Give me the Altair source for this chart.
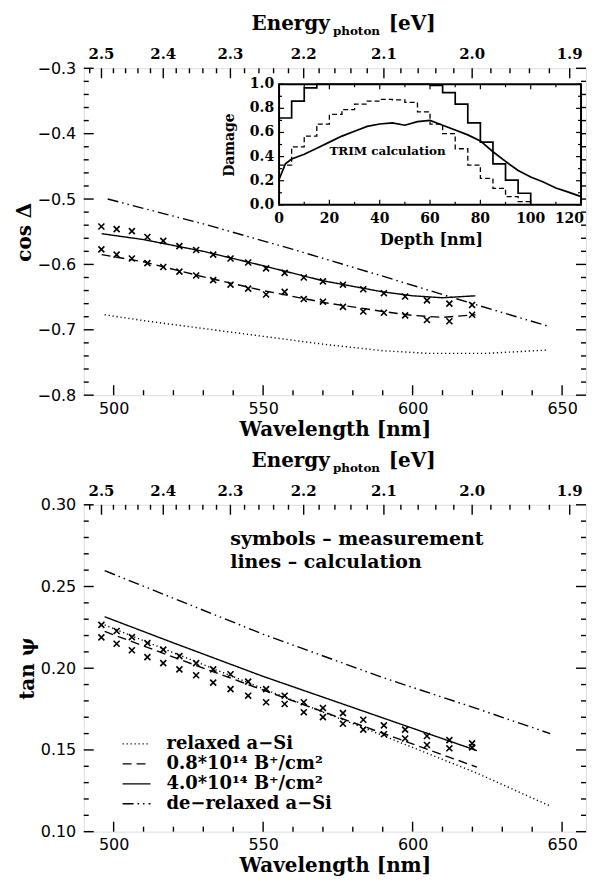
import altair as alt
import pandas as pd

# ----------------------------- data -----------------------------------
# wavelengths of the measured points (nm)  (photon energies 2.5 ... 2.0 eV)
WL_MEAS = [495.9, 501.0, 506.1, 511.3, 516.6, 522.0, 527.6, 533.3, 539.1, 545.0,
           551.0, 557.2, 563.6, 570.0, 576.7, 583.5, 590.4, 597.5, 604.8, 612.3, 619.9]

COS_MEAS_HIGH = [-0.542, -0.546, -0.549, -0.558, -0.564, -0.572, -0.578, -0.585, -0.591, -0.597,
                 -0.606, -0.613, -0.620, -0.626, -0.631, -0.638, -0.644, -0.649, -0.655, -0.660, -0.662]
COS_MEAS_LOW = [-0.577, -0.585, -0.591, -0.598, -0.604, -0.611, -0.617, -0.624, -0.631, -0.637,
                -0.646, -0.642, -0.653, -0.657, -0.665, -0.672, -0.674, -0.678, -0.685, -0.687, -0.677]

TAN_MEAS_HIGH = [0.2265, 0.2228, 0.2190, 0.2154, 0.2114, 0.2074, 0.2031, 0.1993, 0.1963, 0.1918,
                 0.1872, 0.1832, 0.1792, 0.1757, 0.1725, 0.1685, 0.1650, 0.1624, 0.1585, 0.1560, 0.1540]
TAN_MEAS_LOW = [0.2189, 0.2150, 0.2110, 0.2068, 0.2031, 0.1993, 0.1957, 0.1912, 0.1872, 0.1832,
                0.1792, 0.1781, 0.1731, 0.1701, 0.1660, 0.1624, 0.1596, 0.1570, 0.1530, 0.1510, 0.1516]

SERIES = ["relaxed a\u2212Si", "0.8*10\u00b9\u2074 B\u207a/cm\u00b2",
          "4.0*10\u00b9\u2074 B\u207a/cm\u00b2", "de\u2212relaxed a\u2212Si"]
DASHES = [[1.2, 2.8], [9, 5], [1, 0], [11, 4, 1.5, 4, 1.5, 4]]

# calculated cos(Delta)
COS_WL_DOTTED = [497, 510, 525, 550, 570, 590, 605, 625, 645]
COS_DOTTED = [-0.677, -0.686, -0.695, -0.710, -0.722, -0.732, -0.736, -0.736, -0.731]
COS_WL_DASHED = [496, 510, 530, 550, 570, 590, 600, 610, 621]
COS_DASHED = [-0.585, -0.596, -0.619, -0.640, -0.658, -0.672, -0.678, -0.681, -0.677]
COS_WL_SOLID = [496, 510, 530, 550, 570, 590, 600, 610, 621]
COS_SOLID = [-0.553, -0.562, -0.580, -0.602, -0.625, -0.642, -0.648, -0.651, -0.648]
COS_WL_DASHDOT = [498, 530, 560, 590, 620, 645]
COS_DASHDOT = [-0.500, -0.538, -0.577, -0.618, -0.660, -0.694]

# calculated tan(psi)
TAN_WL_DOTTED = [497, 520, 550, 585, 621.5, 646]
TAN_DOTTED = [0.2265, 0.2095, 0.1875, 0.1625, 0.1358, 0.1157]
TAN_WL_DASHED = [497, 520, 545, 580, 621.5]
TAN_DASHED = [0.2225, 0.2068, 0.1900, 0.1668, 0.1395]
TAN_WL_SOLID = [497, 520, 550, 585, 621.5]
TAN_SOLID = [0.2315, 0.2155, 0.1950, 0.1728, 0.1496]
TAN_WL_DASHDOT = [497, 550, 590, 620, 646]
TAN_DASHDOT = [0.2597, 0.2208, 0.1943, 0.1762, 0.1600]

# inset: damage profiles
DEPTH_BINS = [0, 5, 10, 15, 20, 25, 30, 35, 40, 45, 50, 55, 60, 65, 70, 75, 80, 85, 90, 95, 100]
DAMAGE_HIGH = [0.72, 0.86, 0.97, 1.0, 1.0, 1.0, 1.0, 1.0, 1.0, 1.0, 1.0, 1.0, 0.99, 0.93,
               0.835, 0.68, 0.52, 0.34, 0.205, 0.096, 0.0]
DAMAGE_LOW = [0.33, 0.48, 0.57, 0.67, 0.75, 0.79, 0.835, 0.86, 0.875, 0.87, 0.85, 0.77, 0.67,
              0.59, 0.465, 0.33, 0.22, 0.137, 0.068, 0.027, 0.0]
DEPTH_TRIM = [0, 2.5, 5, 10, 15, 20, 25, 30, 35, 40, 45, 50, 55, 60, 65, 70, 75, 80, 85, 90,
              95, 100, 105, 110, 115, 120]
DAMAGE_TRIM = [0.21, 0.34, 0.38, 0.42, 0.47, 0.52, 0.57, 0.61, 0.65, 0.67, 0.68, 0.66, 0.69,
               0.70, 0.66, 0.62, 0.58, 0.53, 0.44, 0.36, 0.285, 0.23, 0.19, 0.14, 0.105, 0.068]

# axis ticks / labels
WL_MAJOR = [500, 550, 600, 650]
WL_MINOR = [510, 520, 530, 540, 560, 570, 580, 590, 610, 620, 630, 640]
ENERGY_MAJOR = [2.5, 2.4, 2.3, 2.2, 2.1, 2.0, 1.9]
ENERGY_LABELS = ["2.5", "2.4", "2.3", "2.2", "2.1", "2.0", "1.9"]
ENERGY_MINOR = [2.52, 2.48, 2.46, 2.44, 2.42, 2.38, 2.36, 2.34, 2.32, 2.28, 2.26, 2.24, 2.22,
                2.18, 2.16, 2.14, 2.12, 2.08, 2.06, 2.04, 2.02, 1.98, 1.96, 1.94, 1.92]
COS_MAJOR = [-0.8, -0.7, -0.6, -0.5, -0.4, -0.3]
COS_MINOR = [-0.78, -0.76, -0.74, -0.72, -0.68, -0.66, -0.64, -0.62, -0.58, -0.56, -0.54, -0.52,
             -0.48, -0.46, -0.44, -0.42, -0.38, -0.36, -0.34, -0.32]
TAN_MAJOR = [0.10, 0.15, 0.20, 0.25, 0.30]
TAN_MINOR = [0.11, 0.12, 0.13, 0.14, 0.16, 0.17, 0.18, 0.19, 0.21, 0.22, 0.23, 0.24,
             0.26, 0.27, 0.28, 0.29]
DEPTH_MAJOR = [0, 20, 40, 60, 80, 100]
DEPTH_LABELS = ["0", "20", "40", "60", "80", "100"]
DEPTH_LAST = [120]
DEPTH_LAST_LABEL = ["120"]
DEPTH_MINOR = [10, 30, 50, 70, 90, 110]
DAMAGE_MAJOR = [0.0, 0.2, 0.4, 0.6, 0.8, 1.0]
DAMAGE_LABELS = ["0.0", "0.2", "0.4", "0.6", "0.8", "1.0"]
DAMAGE_MINOR = [0.1, 0.3, 0.5, 0.7, 0.9]

ANNOT_WL = [539, 539]
ANNOT_TAN = [0.279, 0.265]
ANNOT_TEXT = ["symbols \u2013 measurement", "lines \u2013 calculation"]

# ----------------------------- layout ---------------------------------
W, H = 504, 328
SERIF = "DejaVu Serif"
SANS = "DejaVu Sans"
XS = alt.Scale(domain=[490, 658], nice=False, zero=False)
XI = alt.Scale(domain=[0, 120], range=[196, 499], nice=False, zero=False)
YI = alt.Scale(domain=[0, 1], range=[137, 16], nice=False, zero=False)
XSHAPE = "M-1,-1L1,1M-1,1L1,-1"
ONE = pd.DataFrame({"k": [0]})
TICK_MAJ, TICK_MIN = 10, 5


def long_df(parts):
    rows = []
    for s, wl, v in parts:
        for a, b in zip(wl, v):
            rows.append({"series": s, "wl": a, "val": b})
    return pd.DataFrame(rows)


def label_text(x, y, txt, size, align="left", baseline="alphabetic", weight="bold", font=SERIF):
    return alt.Chart(ONE).mark_text(font=font, fontSize=size, fontWeight=weight, align=align,
                                    baseline=baseline, color="black").encode(
        x=alt.value(x), y=alt.value(y), text=alt.value(txt))


def make_panel(ydom, ymajor, yminor, yfmt, ytitle, lines_df, meas_df, legend, extra):
    ys = alt.Scale(domain=ydom, nice=False, zero=False)
    xaxis = alt.Axis(values=WL_MAJOR, format="d", title="Wavelength [nm]", ticks=False,
                     domain=False, grid=False, labelFont=SANS, labelFontSize=16,
                     labelColor="black", labelPadding=5, labelOverlap=False, labelFlush=False,
                     titleFont=SERIF, titleFontSize=20, titleFontWeight="bold",
                     titleColor="black", titlePadding=3)
    yaxis = alt.Axis(values=ymajor, format=yfmt, title=ytitle, ticks=False, domain=False,
                     grid=False, labelFont=SANS, labelFontSize=16, labelColor="black",
                     labelPadding=8, labelOverlap=False, labelFlush=False, titleFont=SERIF,
                     titleFontSize=20, titleFontWeight="bold", titleColor="black",
                     titlePadding=3)

    def X(f):
        return alt.X(f, type="quantitative", scale=XS, axis=xaxis)

    def Y(f):
        return alt.Y(f, type="quantitative", scale=ys, axis=yaxis)

    rule = dict(color="black", strokeWidth=1.4)
    L = []
    L.append(alt.Chart(lines_df).mark_line(color="black", strokeWidth=1.4).encode(
        x=X("wl"), y=Y("val"),
        strokeDash=alt.StrokeDash("series:N", scale=alt.Scale(domain=SERIES, range=DASHES),
                                  legend=legend)))
    L.append(alt.Chart(meas_df).mark_point(shape=XSHAPE, size=36, filled=False, color="black",
                                           strokeWidth=1.6, opacity=1).encode(
        x=X("wl"), y=Y("val")))
    # bottom / top ticks
    for vals, ln in ((WL_MAJOR, TICK_MAJ), (WL_MINOR, TICK_MIN)):
        L.append(alt.Chart(pd.DataFrame({"wl": vals})).mark_rule(**rule).encode(
            x=X("wl"), y=alt.value(H), y2=alt.value(H - ln)))
    for vals, ln in ((ENERGY_MAJOR, TICK_MAJ), (ENERGY_MINOR, TICK_MIN)):
        L.append(alt.Chart(pd.DataFrame({"E": vals})).transform_calculate(
            wl="1239.84 / datum.E").mark_rule(**rule).encode(
            x=X("wl"), y=alt.value(0), y2=alt.value(ln)))
    # left / right ticks
    for vals, ln in ((ymajor, TICK_MAJ), (yminor, TICK_MIN)):
        df = pd.DataFrame({"val": vals})
        L.append(alt.Chart(df).mark_rule(**rule).encode(
            y=Y("val"), x=alt.value(0), x2=alt.value(ln)))
        L.append(alt.Chart(df).mark_rule(**rule).encode(
            y=Y("val"), x=alt.value(W), x2=alt.value(W - ln)))
    # energy axis labels and title
    L.append(alt.Chart(pd.DataFrame({"E": ENERGY_MAJOR, "lab": ENERGY_LABELS}))
             .transform_calculate(wl="1239.84 / datum.E")
             .mark_text(font=SERIF, fontSize=15, fontWeight="bold", baseline="alphabetic",
                        color="black")
             .encode(x=X("wl"), y=alt.value(-9), text="lab:N"))
    L.append(label_text(247, -38, "Energy", 20, align="right"))
    L.append(label_text(250, -33, "photon", 12))
    L.append(label_text(306, -38, "[eV]", 20))
    for e in extra:
        L.append(e(X, Y))
    return alt.layer(*L)


def inset_layers():
    def XD(f):
        return alt.X(f, type="quantitative", scale=XI, axis=None)

    def YD(f):
        return alt.Y(f, type="quantitative", scale=YI, axis=None)

    rule = dict(color="black", strokeWidth=1.2)
    L = []
    L.append(alt.Chart(ONE).mark_rect(fill="white", stroke="black", strokeWidth=2).encode(
        x=alt.X(datum=0, type="quantitative", scale=XI, axis=None),
        x2=alt.X2(datum=120),
        y=alt.Y(datum=0, type="quantitative", scale=YI, axis=None),
        y2=alt.Y2(datum=1)))
    L.append(alt.Chart(pd.DataFrame({"d": DEPTH_BINS, "g": DAMAGE_HIGH}))
             .mark_line(interpolate="step-after", color="black", strokeWidth=1.7)
             .encode(x=XD("d"), y=YD("g")))
    L.append(alt.Chart(pd.DataFrame({"d": DEPTH_BINS, "g": DAMAGE_LOW}))
             .mark_line(interpolate="step-after", color="black", strokeWidth=1.3,
                        strokeDash=[5, 3])
             .encode(x=XD("d"), y=YD("g")))
    L.append(alt.Chart(pd.DataFrame({"d": DEPTH_TRIM, "g": DAMAGE_TRIM}))
             .mark_line(color="black", strokeWidth=1.7)
             .encode(x=XD("d"), y=YD("g")))
    for vals, ln in ((DEPTH_MAJOR + DEPTH_LAST, 5), (DEPTH_MINOR, 3)):
        df = pd.DataFrame({"d": vals})
        L.append(alt.Chart(df).mark_rule(**rule).encode(
            x=XD("d"), y=alt.value(137), y2=alt.value(137 - ln)))
        L.append(alt.Chart(df).mark_rule(**rule).encode(
            x=XD("d"), y=alt.value(16), y2=alt.value(16 + ln)))
    for vals, ln in ((DAMAGE_MAJOR, 5), (DAMAGE_MINOR, 3)):
        df = pd.DataFrame({"g": vals})
        L.append(alt.Chart(df).mark_rule(**rule).encode(
            y=YD("g"), x=alt.value(196), x2=alt.value(196 + ln)))
        L.append(alt.Chart(df).mark_rule(**rule).encode(
            y=YD("g"), x=alt.value(499), x2=alt.value(499 - ln)))
    L.append(alt.Chart(pd.DataFrame({"d": DEPTH_MAJOR, "lab": DEPTH_LABELS}))
             .mark_text(font=SERIF, fontSize=14, fontWeight="bold", baseline="top",
                        color="black")
             .encode(x=XD("d"), y=alt.value(144), text="lab:N"))
    L.append(alt.Chart(pd.DataFrame({"d": DEPTH_LAST, "lab": DEPTH_LAST_LABEL}))
             .mark_text(font=SERIF, fontSize=14, fontWeight="bold", baseline="top",
                        align="right", dx=3, color="black")
             .encode(x=XD("d"), y=alt.value(144), text="lab:N"))
    L.append(alt.Chart(pd.DataFrame({"g": DAMAGE_MAJOR, "lab": DAMAGE_LABELS}))
             .mark_text(font=SERIF, fontSize=14, fontWeight="bold", baseline="middle",
                        align="right", color="black")
             .encode(y=YD("g"), x=alt.value(191), text="lab:N"))
    L.append(label_text(349, 177, "Depth [nm]", 16, align="center"))
    L.append(alt.Chart(ONE).mark_text(font=SERIF, fontSize=14, fontWeight="bold", angle=270,
                                      align="center", baseline="middle", color="black")
             .encode(x=alt.value(147), y=alt.value(77), text=alt.value("Damage")))
    L.append(alt.Chart(ONE).mark_text(font=SERIF, fontSize=12, fontWeight="bold",
                                      align="left", baseline="middle", color="black")
             .encode(x=alt.X(datum=20, type="quantitative", scale=XI, axis=None),
                     y=alt.Y(datum=0.45, type="quantitative", scale=YI, axis=None),
                     text=alt.value("TRIM calculation")))
    return alt.layer(*L)


cos_lines = long_df([(SERIES[0], COS_WL_DOTTED, COS_DOTTED),
                     (SERIES[1], COS_WL_DASHED, COS_DASHED),
                     (SERIES[2], COS_WL_SOLID, COS_SOLID),
                     (SERIES[3], COS_WL_DASHDOT, COS_DASHDOT)])
cos_meas = long_df([("high", WL_MEAS, COS_MEAS_HIGH), ("low", WL_MEAS, COS_MEAS_LOW)])
tan_lines = long_df([(SERIES[0], TAN_WL_DOTTED, TAN_DOTTED),
                     (SERIES[1], TAN_WL_DASHED, TAN_DASHED),
                     (SERIES[2], TAN_WL_SOLID, TAN_SOLID),
                     (SERIES[3], TAN_WL_DASHDOT, TAN_DASHDOT)])
tan_meas = long_df([("high", WL_MEAS, TAN_MEAS_HIGH), ("low", WL_MEAS, TAN_MEAS_LOW)])

top_main = make_panel([-0.8, -0.3], COS_MAJOR, COS_MINOR, ".1f", "cos \u0394",
                      cos_lines, cos_meas, None, [])
top = alt.layer(top_main, inset_layers()).resolve_scale(
    x="independent", y="independent").properties(width=W, height=H)


def annot(X, Y):
    return alt.Chart(pd.DataFrame({"wl": ANNOT_WL, "val": ANNOT_TAN, "txt": ANNOT_TEXT})) \
        .mark_text(font=SERIF, fontSize=19, fontWeight="bold", align="left",
                   baseline="middle", color="black") \
        .encode(x=X("wl"), y=Y("val"), text="txt:N")


legend = alt.Legend(title=None, orient="none", legendX=38, legendY=230, direction="vertical",
                    symbolType="stroke", symbolSize=784, symbolStrokeWidth=1.3,
                    symbolStrokeColor="black", clipHeight=20, rowPadding=0, labelOffset=15,
                    labelFont=SERIF, labelFontSize=18, labelFontWeight="bold",
                    labelColor="black", padding=0, labelLimit=400)

bottom = make_panel([0.10, 0.30], TAN_MAJOR, TAN_MINOR, ".2f", "tan \u03c8",
                    tan_lines, tan_meas, legend, [annot]).properties(width=W, height=H)

chart = alt.vconcat(top, bottom, spacing=110, bounds="flush").resolve_scale(
    strokeDash="independent").resolve_legend(strokeDash="independent").properties(
    padding={"left": 5, "right": 0, "top": 4, "bottom": 0}
).configure_view(stroke="black", strokeWidth=2).configure(background="white")

chart.save("out.html", embed_options={"renderer": "svg", "actions": False})
